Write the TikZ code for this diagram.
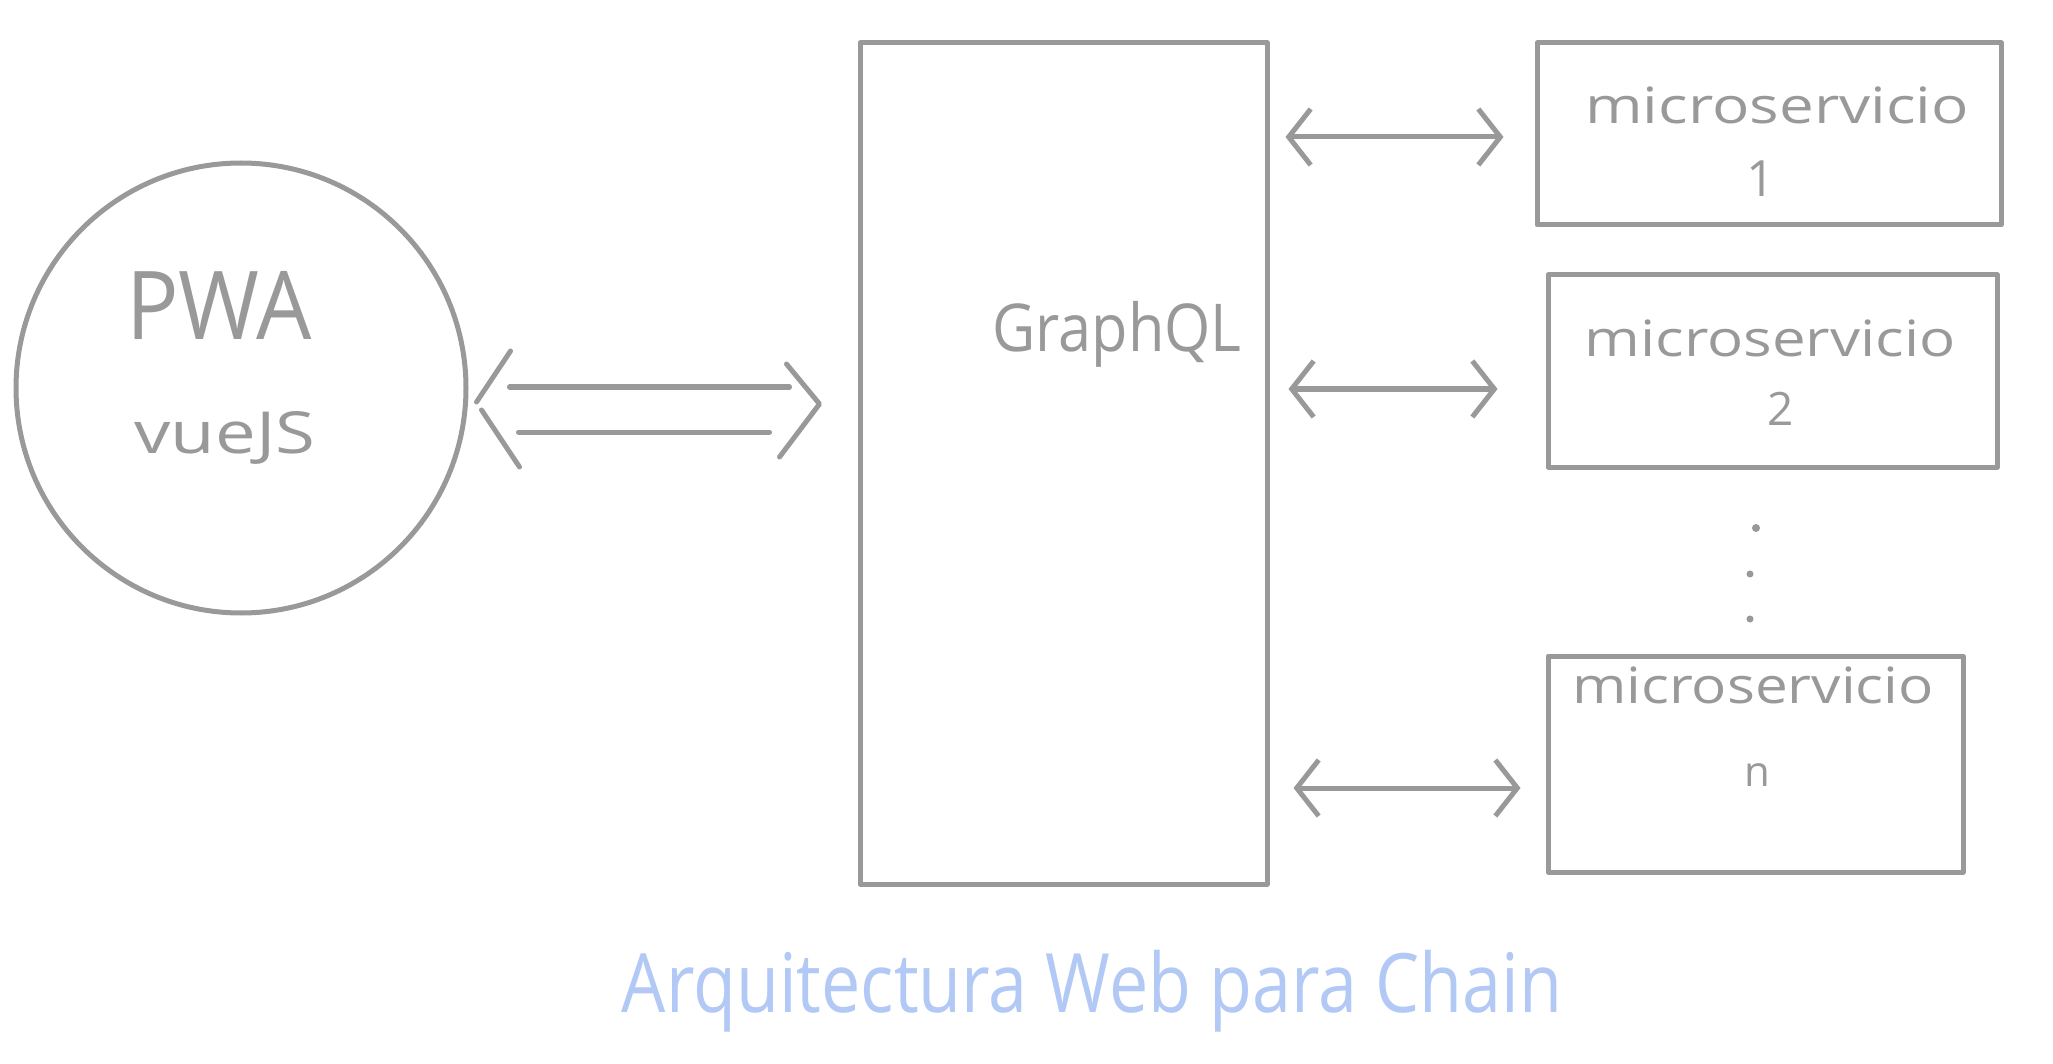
\documentclass[tikz,border=0pt]{standalone}
\usepackage{fontspec}
\usepackage{graphicx}
\setmainfont{Open Sans}
\usetikzlibrary{arrows.meta,calc}
\definecolor{ink}{RGB}{153,153,153}
\definecolor{titleblue}{RGB}{178,200,245}
\newcommand{\handtext}[3]{\scalebox{#2}[1]{\fontsize{#1}{#1}\selectfont #3}}
\begin{document}
\begin{tikzpicture}[x=1pt,y=-1pt,
  line cap=round, line join=round,
  stroke/.style={draw=ink, line width=5pt},
  box/.style={draw=ink, rectangle, inner sep=0pt, line width=5pt},
  hand/.style={text=ink, inner sep=0pt, anchor=base},
  biarrow/.style={draw=ink, line width=5pt,
    {Straight Barb[length=22pt,width=56pt]}-{Straight Barb[length=22pt,width=56pt]}},
  dotmark/.style={circle, fill=ink, draw=none, inner sep=0pt, minimum size=8pt}]
\fill[white] (0,0) rectangle (2053,1064);
\useasboundingbox (0,0) rectangle (2053,1064);

% main shapes
\node[box, circle, minimum size=450pt] (pwa) at (241,388) {};
\node[box, minimum width=407pt, minimum height=841pt] (gq) at (1063.5,463.5) {};
\node[box, minimum width=464pt, minimum height=182pt] (b1) at (1769,134) {};
\node[box, minimum width=449pt, minimum height=192pt] (b2) at (1772.5,371) {};
\node[box, minimum width=415pt, minimum height=216pt] (bn) at (1755.5,764) {};

% texts
\node[hand] (tpwa) at (219,340) {\handtext{95}{0.92}{PWA}};
\node[hand] (tvue) at (225,453) {\handtext{58}{1.25}{vueJS}};
\node[hand] (tgq) at (1117,352) {\handtext{66}{0.9}{GraphQL}};
\node[hand] (tb1) at (1777,124) {\handtext{50}{1.24}{microservicio}};
\node[hand] (tb1n) at (1761,197) {\handtext{50}{1}{1}};
\node[hand] (tb2) at (1770,356) {\handtext{50}{1.2}{microservicio}};
\node[hand] (tb2n) at (1781,425) {\handtext{46}{1}{2}};
\node[hand] (tbn) at (1753,703) {\handtext{50}{1.17}{microservicio}};
\node[hand] (tbnn) at (1757,786) {\handtext{42}{1}{n}};
\node[hand, text=titleblue] (title) at (1092,1012) {\handtext{82}{0.853}{Arquitectura Web para Chain}};

% dots
\node[dotmark] (d1) at (1756,528) {};
\node[dotmark, minimum size=7pt] (d2) at (1750,574) {};
\node[dotmark, minimum size=7pt] (d3) at (1750,619) {};

% double arrow PWA <=> GraphQL
\coordinate (L) at ($(pwa.east)+(10,16)$);
\coordinate (R) at ($(L -| gq.west)+(-38,0)$);
\draw[stroke] ($(L)+(31,-17)$) -- ($(R)+(-30,-17)$);
\draw[stroke] ($(L)+(40,28)$) -- ($(R)+(-50,28)$);
\draw[stroke] ($(L)+(32,-53)$) -- ($(L)+(-2,-2)$);
\draw[stroke] ($(L)+(3,6)$) -- ($(L)+(41,63)$);
\draw[stroke] ($(R)+(-33,-40)$) -- (R) -- ($(R)+(-40,53)$);

% GraphQL <-> microservices
\coordinate (a1e) at ($(b1.west)+(-31,3)$);
\coordinate (a1w) at ($(gq.east |- a1e)+(16,0)$);
\draw[biarrow] (a1w) -- (a1e);
\coordinate (a2e) at ($(b2.west)+(-48,18)$);
\coordinate (a2w) at ($(gq.east |- a2e)+(19,0)$);
\draw[biarrow] (a2w) -- (a2e);
\coordinate (ane) at ($(bn.west)+(-25,24)$);
\coordinate (anw) at ($(gq.east |- ane)+(24,0)$);
\draw[biarrow] (anw) -- (ane);
\end{tikzpicture}
\end{document}
